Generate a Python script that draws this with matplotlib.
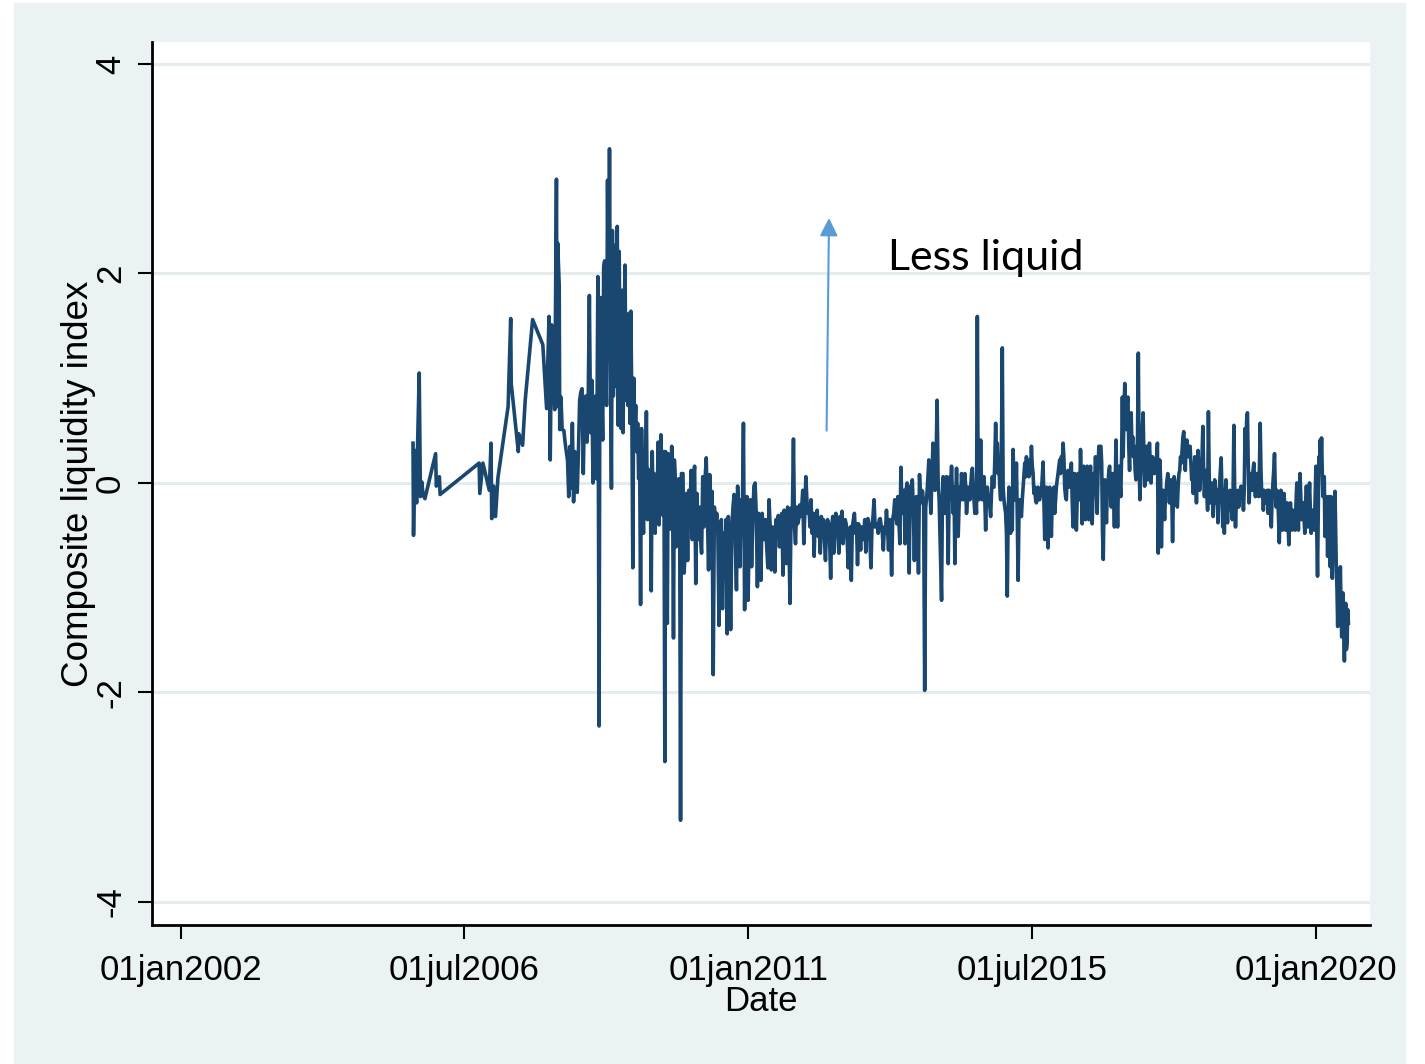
import pandas as pd
import matplotlib
matplotlib.use("Agg")
import matplotlib.pyplot as plt
from matplotlib import font_manager
from matplotlib.patches import Rectangle

# early, sparsely observed part of the index
early_dates = ["2005-09-06", "2005-09-09", "2005-09-17", "2005-09-27", "2005-10-01",
               "2005-10-12", "2005-10-19", "2005-10-27", "2005-11-03", "2005-11-14",
               "2006-01-15", "2006-01-19", "2006-02-06", "2006-02-10", "2006-09-24",
               "2006-09-28", "2006-10-16", "2006-11-22", "2006-12-02", "2006-12-06",
               "2006-12-17", "2006-12-28", "2007-01-11", "2007-03-11", "2007-03-26",
               "2007-03-29", "2007-05-09", "2007-05-12", "2007-06-03", "2007-06-18",
               "2007-07-31", "2007-09-28", "2007-10-20", "2007-11-03", "2007-11-10",
               "2007-11-18", "2007-11-25", "2007-12-06", "2007-12-09", "2007-12-16",
               "2007-12-20", "2007-12-23", "2008-01-01", "2008-01-04", "2008-01-11",
               "2008-01-18"]
early_vals = [0.38, -0.50, 0.31, -0.19, 0.25, 1.05, -0.13, 0.01, -0.11, -0.15,
              0.28, -0.03, 0.06, -0.11, 0.19, -0.10, 0.19, -0.07, 0.38, -0.34,
              -0.03, -0.32, 0.05, 0.73, 1.57, 0.95, 0.30, 0.47, 0.36, 0.79,
              1.56, 1.32, 0.71, 1.59, 0.22, 1.51, 1.14, 0.70, 1.30, 2.90,
              0.73, 2.29, 1.89, 0.51, 0.82, 0.51]

b1_span = ("2008-01-28", "2008-08-19")
b1_vals = [0.50, 0.39, 0.30, 0.22, -0.13, 0.35, -0.05, 0.57, -0.18, 0.30, 0.09, -0.09,
           0.30, 0.79, 0.87, 0.90, 0.09, 0.74, 0.83, 0.39, 0.74, 1.79, 0.48, 0.98,
           0.00, 0.74, 0.83, 0.04, 1.97, -2.32]

b2_span = ("2008-08-23", "2009-09-04")
b2_vals = [0.74, 1.77, 0.92, 0.41, 2.06, 2.12, 1.09, 0.74, 2.89, 1.18, 3.19, 1.14,
           -0.05, 2.41, 0.83, 1.92, 2.27, 0.92, 2.45, 0.55, 2.21, 0.92, 0.52, 1.84,
           0.48, 1.49, 2.08, 0.79, 1.27, 0.74, 1.62, 0.57, 1.64, 0.74, -0.81, 1.00,
           0.52, 0.74, 0.30, 0.57, 0.04, 0.30, -1.16, 0.52, 0.04, -0.48, 0.30, 0.04,
           0.68, -0.35, 0.13, -0.22, 0.04, -1.03, 0.30, -0.26, 0.09, -0.48, 0.04, -0.35,
           0.39, -0.40, 0.17, 0.46, -0.05, -0.31, 0.30, -2.66]

b3_span = ("2009-09-08", "2009-12-09")
b3_vals = [0.30, -0.35, -1.34, 0.28, -0.13, -0.44, 0.00, 0.35, -0.09, -1.48, 0.22, 0.04,
           -0.61, -0.13, -0.26, 0.04, -0.22, -3.22, 0.09]

c1_span = ("2009-12-18", "2011-09-19")
c1_vals = [0.09, -0.86, -0.61, -0.10, -0.74, -0.07, -0.35, 0.12, -0.54, 0.03, 0.16, -0.96,
           -0.10, -0.54, -0.23, -0.51, -0.67, 0.06, -0.42, 0.03, 0.24, -0.29, -0.83, 0.08,
           -0.35, -0.08, -1.83, -0.23, -0.42, -0.29, -0.48, -1.36, -0.48, -0.35, -1.20, -0.48,
           -0.74, -0.35, -1.44, -0.32, -0.67, -1.40, -0.45, -0.23, -0.11, -0.54, -1.02, -0.03,
           -0.42, -0.80, -0.16, -0.35, 0.57, -1.21, -0.29, -0.13, -1.12, -0.42, -0.16, -0.80,
           -0.35, -0.03, 0.00, -0.29, -0.99, -0.29, -0.61, -0.93, -0.29, -0.42, -0.54, -0.35,
           -0.61, -0.81, -0.16, -0.42, -0.83, -0.42, -0.61, -0.85, -0.35, -0.48, -0.31, -0.61,
           -0.42, -0.29, -0.88, -0.26, -0.48, -0.77, -0.23, -0.42, -1.15, -0.24, -0.35, 0.42]

c2_span = ("2011-09-25", "2014-01-10")
c2_vals = [-0.42, -0.58, -0.23, -0.39, -0.35, -0.21, -0.32, -0.23, -0.07, -0.58, -0.29, 0.06,
           -0.16, -0.29, -0.23, -0.42, -0.16, -0.48, -0.29, -0.70, -0.35, -0.29, -0.26, -0.51,
           -0.42, -0.67, -0.32, -0.48, -0.35, -0.54, -0.74, -0.42, -0.35, -0.39, -0.54, -0.91,
           -0.42, -0.32, -0.67, -0.39, -0.29, -0.39, -0.51, -0.67, -0.32, -0.42, -0.27, -0.58,
           -0.42, -0.35, -0.39, -0.54, -0.81, -0.48, -0.42, -0.93, -0.42, -0.35, -0.29, -0.48,
           -0.39, -0.78, -0.39, -0.48, -0.64, -0.42, -0.54, -0.51, -0.35, -0.66, -0.42, -0.34,
           -0.39, -0.54, -0.81, -0.42, -0.32, -0.16, -0.42, -0.39, -0.39, -0.48, -0.35, -0.34,
           -0.42, -0.48, -0.64, -0.42, -0.48, -0.26, -0.42, -0.64, -0.35, -0.42, -0.88, -0.35,
           -0.29, -0.16, -0.29, -0.39, -0.13, -0.35, -0.58, 0.15, -0.23, -0.29, -0.07, -0.58,
           -0.07, 0.00, -0.29, -0.86, -0.03, -0.29, 0.03, -0.23, -0.74, -0.23, -0.13, -0.29,
           -0.86, 0.08, -0.19, -0.07, -0.08, -0.23, -1.98, -0.23, -0.13, 0.03, 0.22, -0.07,
           -0.29, 0.03, 0.38, 0.09, -0.07, 0.19, 0.79, 0.03, -0.16]

d_span = ("2014-01-24", "2016-07-23")
d_vals = [-1.12, -0.16, 0.06, -0.16, -0.29, -0.04, 0.06, -0.23, -0.77, -0.16, 0.06, -0.04,
          0.16, -0.10, -0.29, -0.04, -0.77, -0.16, 0.14, -0.16, -0.51, -0.23, -0.04, -0.16,
          0.09, -0.10, -0.16, -0.04, 0.09, -0.04, -0.29, -0.16, -0.04, -0.10, -0.16, -0.04,
          0.09, 0.14, -0.04, -0.16, -0.29, -0.16, -0.29, 1.59, -0.10, -0.16, -0.04, 0.41,
          -0.04, -0.16, -0.07, 0.06, -0.16, -0.45, -0.10, -0.04, -0.16, -0.16, -0.23, -0.32,
          -0.10, 0.06, -0.04, -0.04, 0.22, 0.57, 0.22, 0.38, 0.09, 0.16, -0.04, -0.16,
          0.38, 1.29, -0.04, -0.16, -0.23, -0.29, -0.48, -1.08, -0.32, -0.04, -0.42, -0.48,
          -0.16, -0.45, 0.32, -0.04, -0.16, -0.10, 0.19, -0.32, -0.93, -0.32, -0.16, -0.26,
          -0.32, -0.16, -0.04, 0.09, 0.19, 0.06, 0.25, 0.09, 0.16, 0.06, 0.22, 0.09,
          0.35, 0.16, 0.09, -0.10, -0.04, -0.16, -0.19, -0.10, -0.04, -0.16, -0.16, -0.10,
          -0.10, 0.06, 0.20, -0.16, -0.54, -0.16, -0.04, -0.29, -0.62, -0.16, -0.04, -0.32,
          -0.51, -0.16, -0.16, -0.04, -0.29, -0.16, -0.04, 0.03, 0.09, 0.16, 0.22, 0.09,
          0.25, 0.16, 0.38, 0.25, -0.04, -0.13, -0.16, 0.09, 0.12, -0.04, 0.09, 0.03,
          0.19, -0.16, -0.42, -0.04, 0.09, -0.16, -0.45, -0.16, 0.09, -0.04, -0.16, 0.32,
          -0.04, -0.39, -0.04, 0.16, -0.16, -0.35, -0.10, 0.16, -0.16, -0.35, -0.04, 0.16,
          -0.16, -0.39, -0.10, 0.09, -0.04, 0.25, -0.04, -0.29, 0.09, 0.35]

e1_span = ("2016-08-04", "2020-01-11")
e1_vals = [0.35, 0.19, -0.45, -0.73, -0.13, 0.03, -0.19, -0.38, -0.07, 0.00, 0.12, 0.16,
           -0.07, -0.23, 0.00, 0.09, -0.13, -0.42, 0.00, 0.41, -0.07, -0.42, 0.03, 0.16,
           0.00, -0.13, 0.25, 0.82, 0.25, 0.67, 0.95, 0.63, 0.51, 0.76, 0.82, 0.35,
           0.12, 0.51, 0.67, 0.35, 0.44, 0.25, 0.35, 0.12, 0.03, 0.25, 0.44, 1.24,
           0.19, -0.16, 0.12, 0.25, 0.51, 0.67, 0.25, -0.03, 0.25, 0.35, 0.19, 0.03,
           0.25, 0.38, 0.19, 0.00, 0.19, 0.25, 0.19, 0.09, 0.19, 0.22, 0.25, 0.38,
           -0.67, -0.13, 0.22, 0.03, -0.61, -0.13, -0.07, -0.19, -0.35, -0.13, -0.07, 0.03,
           0.09, 0.00, -0.19, -0.07, 0.03, -0.13, -0.56, -0.13, 0.06, 0.00, -0.03, -0.13,
           -0.23, -0.03, 0.09, 0.12, 0.25, 0.19, 0.31, 0.44, 0.49, 0.35, 0.12, 0.38,
           0.41, 0.31, 0.25, 0.35, 0.35, 0.19, 0.03, 0.12, -0.10, 0.12, 0.25, 0.06,
           -0.19, 0.12, 0.31, 0.12, -0.07, 0.06, 0.12, 0.25, 0.54, 0.12, -0.13, 0.06,
           0.12, -0.07, -0.26, 0.68, 0.06, -0.19, -0.07, 0.00, -0.13, -0.32, -0.07, 0.03,
           -0.07, -0.19, -0.07, -0.38, -0.13, -0.03, 0.12, 0.24, -0.07, -0.42, -0.07, -0.48,
           -0.13, 0.03, -0.19, -0.38, -0.13, -0.16, -0.07, -0.19, -0.26, -0.35, -0.07, 0.55,
           -0.07, -0.42, -0.19, -0.13, -0.07, -0.23, -0.13, -0.10, -0.03, -0.07, -0.13, -0.26,
           -0.07, 0.52, 0.19, 0.60, 0.67, 0.19, -0.19, -0.03, 0.09, 0.00, -0.07, 0.12,
           0.19, 0.03, -0.13, 0.00, 0.09, 0.00, -0.13, 0.12, 0.57, 0.12, -0.13, -0.07,
           -0.26, -0.07, -0.10, -0.19, -0.10, -0.07, -0.29, -0.07, -0.13, -0.26, -0.42, -0.13,
           0.00, 0.12, 0.28, -0.07, -0.23, -0.07, -0.13, -0.32, -0.57, -0.19, -0.07, -0.26,
           -0.45, -0.19, -0.10, -0.26, -0.45, -0.32, -0.19, -0.38, -0.59, -0.32, -0.19, -0.32,
           -0.45, -0.26, -0.32, -0.38, -0.45, -0.19, 0.00, -0.26, -0.45, -0.13, 0.09, -0.13,
           -0.35, -0.26, -0.19, -0.32, -0.48, -0.19, -0.03, -0.19, -0.42, -0.19, 0.00, -0.26,
           -0.48, -0.32, -0.26, -0.38, -0.45, -0.13, 0.16, -0.45, -0.89]

e2_span = ("2020-01-15", "2020-07-08")
e2_vals = [-0.32, 0.25, 0.12, 0.41, 0.19, 0.43, 0.12, -0.13, -0.03, 0.06, -0.51, -0.32,
           -0.13, -0.32, -0.70, -0.32, -0.13, -0.45, -0.80, -0.13, -0.45, -0.91, -0.51, -0.35,
           -0.19, -0.08, -0.45, -0.83, -1.02, -1.37, -0.96, -1.15, -0.96, -0.80, -1.21, -1.47,
           -1.21, -1.05, -1.40, -1.70, -1.27, -1.15, -1.59, -1.53, -1.21, -1.34]

xtick_dates = ["2002-01-01", "2006-07-01", "2011-01-01", "2015-07-01", "2020-01-01"]
xtick_labels = ["01jan2002", "01jul2006", "01jan2011", "01jul2015", "01jan2020"]
ytick_vals = [-4, -2, 0, 2, 4]

segments = [(b1_span, b1_vals), (b2_span, b2_vals), (b3_span, b3_vals),
            (c1_span, c1_vals), (c2_span, c2_vals), (d_span, d_vals),
            (e1_span, e1_vals), (e2_span, e2_vals)]

dates = list(pd.to_datetime(early_dates))
vals = list(early_vals)
for (start, end), v in segments:
    dates += list(pd.date_range(start, end, periods=len(v)))
    vals += v

names = {f.name for f in font_manager.fontManager.ttflist}
plt.rcParams['font.family'] = ['Liberation Sans', 'DejaVu Sans']
if 'Liberation Sans Narrow' in names:
    hfont, hsize = ['Liberation Sans Narrow', 'Liberation Sans'], 28
else:
    hfont, hsize = ['Liberation Sans', 'DejaVu Sans'], 25

navy = '#1a476f'
bg = '#eaf2f3'

fig = plt.figure(figsize=(14.25, 10.64), dpi=100, facecolor='white')
fig.patches.append(Rectangle((14 / 1425, 0), 1391 / 1425, 1061 / 1064,
                             transform=fig.transFigure, color=bg, zorder=-10))
ax = fig.add_axes([152 / 1425, 139 / 1064, 1218 / 1425, 883 / 1064])
ax.set_facecolor('white')

ax.plot(dates, vals, color=navy, lw=2.6, zorder=3)

ax.set_xlim(pd.Timestamp("2001-07-17"), pd.Timestamp("2020-11-10"))
ax.set_ylim(-4.22, 4.21)

ax.set_xticks(pd.to_datetime(xtick_dates))
ax.set_xticklabels(xtick_labels, family=hfont, fontsize=hsize)
ax.set_yticks(ytick_vals)
ax.set_yticklabels([str(v) for v in ytick_vals], fontsize=25, rotation=90, va='center')

ax.tick_params(axis='x', length=10, width=1.5, pad=11, color='black')
ax.tick_params(axis='y', length=10, width=1.5, pad=8, color='black')

ax.yaxis.grid(True, color='#e4ecee', lw=2.2, zorder=0)
ax.xaxis.grid(False)
ax.set_axisbelow(True)

for side in ['top', 'right']:
    ax.spines[side].set_visible(False)
for side in ['left', 'bottom']:
    ax.spines[side].set_linewidth(2)
    ax.spines[side].set_color('black')

ax.set_xlabel("Date", family=hfont, fontsize=hsize)
ax.xaxis.set_label_coords(0.5, -0.068)
ax.set_ylabel("Composite liquidity index", fontsize=26.5)
ax.yaxis.set_label_coords(-0.046, 0.5)

# arrow and note
ax.annotate("", xy=(pd.Timestamp("2012-04-12"), 2.53), xytext=(pd.Timestamp("2012-03-29"), 0.50),
            arrowprops=dict(arrowstyle='-|>,head_length=0.4,head_width=0.2', color='#5b9bd5',
                            lw=1.5, mutation_scale=27, shrinkA=0, shrinkB=0), zorder=4)
ax.text(pd.Timestamp("2013-03-18"), 2.03, "Less liquid", family=['Lato', 'DejaVu Sans'],
        fontsize=31, ha='left', va='baseline', color='black', zorder=4)

fig.savefig("out.png", dpi=100, facecolor=fig.get_facecolor())
